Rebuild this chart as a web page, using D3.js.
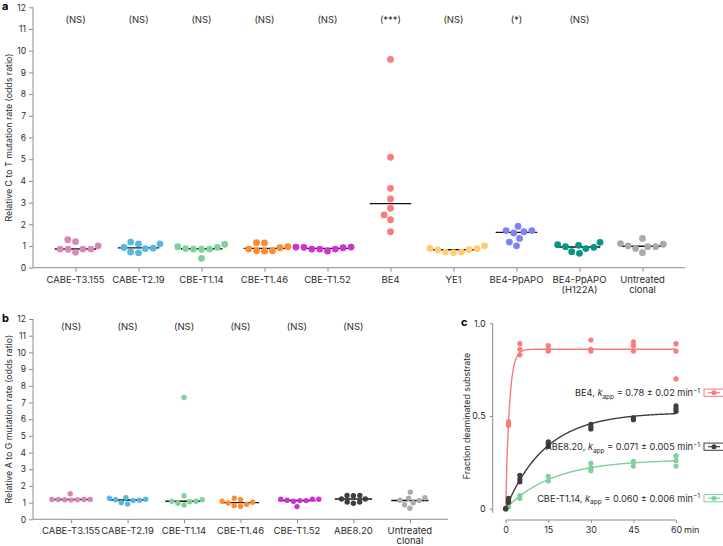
<!DOCTYPE html>
<html>
<head>
<meta charset="utf-8">
<script src="https://cdn.jsdelivr.net/npm/d3@7"></script>
<style>
  body { margin: 0; background: #fff; }
  svg { display: block; font-family: Inter, "Open Sans", sans-serif; }
</style>
</head>
<body>
<script>
// panel a : C to T
var catsA = ["CABE-T3.155", "CABE-T2.19", "CBE-T1.14", "CBE-T1.46", "CBE-T1.52", "BE4", "YE1", "BE4-PpAPO", "BE4-PpAPO\n(H122A)", "Untreated\nclonal"];
var sigA = ["(NS)", "(NS)", "(NS)", "(NS)", "(NS)", "(***)", "(NS)", "(*)", "(NS)", ""];
var cabeT3155A = [0.85, 1.20, 0.86, 1.29, 0.86, 0.86, 1.01, 0.71];
var cabeT219A = [0.72, 1.18, 0.88, 1.10, 0.90, 1.10, 0.93, 0.68];
var cbeT114A = [0.97, 0.88, 0.85, 0.43, 0.86, 1.08, 0.86, 0.94];
var cbeT146A = [1.14, 0.78, 0.97, 1.15, 0.78, 0.92, 0.76, 0.86];
var cbeT152A = [0.86, 0.95, 0.92, 0.95, 0.77, 0.94, 0.86, 0.86];
var be4A = [9.6, 5.09, 3.66, 3.17, 2.74, 2.43, 2.21, 1.66];
var ye1A = [0.72, 0.89, 0.82, 0.88, 1.01, 0.69, 0.83, 0.72];
var ppapoA = [1.91, 1.60, 1.71, 1.35, 1.01, 1.66, 1.18, 1.71];
var h122aA = [1.06, 0.94, 0.66, 1.17, 0.88, 0.97, 0.74, 1.03];
var untreatedA = [1.08, 1.11, 0.97, 0.69, 1.35, 0.88, 0.97, 1.01];
var groupsA = [cabeT3155A, cabeT219A, cbeT114A, cbeT146A, cbeT152A, be4A, ye1A, ppapoA, h122aA, untreatedA];

// panel b : A to G
var catsB = ["CABE-T3.155", "CABE-T2.19", "CBE-T1.14", "CBE-T1.46", "CBE-T1.52", "ABE8.20", "Untreated\nclonal"];
var sigB = ["(NS)", "(NS)", "(NS)", "(NS)", "(NS)", "(NS)", ""];
var cabeT3155B = [1.17, 1.19, 1.19, 1.19, 1.53, 1.15, 1.19, 1.17];
var cabeT219B = [1.14, 1.26, 1.12, 1.20, 1.29, 0.92, 1.17, 0.99];
var cbeT114B = [0.96, 1.17, 1.41, 1.08, 1.08, 0.86, 1.05, 7.3];
var cbeT146B = [1.17, 0.82, 1.08, 1.26, 0.90, 1.02, 0.78, 0.98];
var cbeT152B = [1.20, 1.14, 1.20, 1.08, 0.76, 1.20, 1.12, 1.12];
var abe820B = [1.43, 1.04, 1.22, 1.43, 1.04, 1.22, 1.41, 0.96];
var untreatedB = [1.26, 0.99, 0.66, 1.63, 1.14, 1.29, 0.87, 1.12];
var groupsB = [cabeT3155B, cabeT219B, cbeT114B, cbeT146B, cbeT152B, abe820B, untreatedB];

var yTicks = d3.range(0, 13);

// panel c : deamination time course
var timePoints = [0, 1, 5, 15, 30, 45, 60];
var be4Reps = [[0], [0.47, 0.46, 0.45], [0.89, 0.86, 0.83], [0.88, 0.86, 0.85], [0.91, 0.86, 0.85], [0.90, 0.88, 0.85], [0.89, 0.85, 0.70]];
var abe820Reps = [[0, 0], [0.056, 0.045, 0.035], [0.18, 0.16, 0.145], [0.36, 0.35, 0.335], [0.455, 0.44, 0.43], [0.49, 0.48], [0.555, 0.54, 0.525]];
var cbeT114Reps = [[0], [0.02, 0.01], [0.07, 0.055], [0.175, 0.15], [0.245, 0.22, 0.205], [0.255, 0.23], [0.285, 0.26, 0.23]];
var kineticNames = ["BE4", "ABE8.20", "CBE-T1.14"];
var kapp = [0.78, 0.071, 0.060];
var kappErr = ["0.02", "0.005", "0.006"];
var kappText = ["0.78", "0.071", "0.060"];
var plateau = [0.86, 0.52, 0.265];

var colors = {
  "CABE-T3.155": "#da86b9", "CABE-T2.19": "#55b8df", "CBE-T1.14": "#80d09c",
  "CBE-T1.46": "#fd8b2f", "CBE-T1.52": "#cf31d3", "BE4": "#f87c7b", "YE1": "#fdcd70",
  "BE4-PpAPO": "#8080f7", "BE4-PpAPO\n(H122A)": "#089589", "Untreated\nclonal": "#aaaaaa",
  "ABE8.20": "#3e3e3e"
};

var W = 723, H = 546;
var axisColor = "#8c8c8c", textColor = "#2b2b2b";

var svg = d3.select("body").append("svg").attr("width", W).attr("height", H);

// simple beeswarm: closest free horizontal spot for each dot
function swarm(vals, y, d) {
  var pts = vals.map(function(v, i) { return {v: v, py: y(v), x: 0}; });
  var order = pts.slice().sort(function(a, b) { return d3.ascending(a.v, b.v); });
  var placed = [];
  order.forEach(function(p) {
    var cands = [0];
    placed.forEach(function(q) {
      var dy = p.py - q.py;
      if (Math.abs(dy) < d) {
        var dx = Math.sqrt(d * d - dy * dy);
        cands.push(q.x + dx, q.x - dx);
      }
    });
    cands.sort(function(a, b) { return Math.abs(a) - Math.abs(b) || a - b; });
    p.x = cands.find(function(c) {
      return placed.every(function(q) { return (c - q.x) * (c - q.x) + (p.py - q.py) * (p.py - q.py) >= d * d - 0.01; });
    });
    placed.push(p);
  });
  return pts;
}

function dotPanel(cfg) {
  var g = svg.append("g");
  var x = d3.scalePoint().domain(cfg.cats).range([33, cfg.right]).padding(0.675);
  var y = d3.scaleLinear().domain([0, 12]).range([cfg.bottom, cfg.top]);

  var yAxis = g.append("g").attr("transform", "translate(33,0)")
    .call(d3.axisLeft(y).tickValues(yTicks).tickSize(4).tickPadding(3));
  var xAxis = g.append("g").attr("transform", "translate(0," + cfg.bottom + ")")
    .call(d3.axisBottom(x).tickSize(4).tickSizeOuter(0).tickFormat(""));
  [yAxis, xAxis].forEach(function(a) {
    a.selectAll("path, line").attr("stroke", axisColor);
    a.select(".domain").attr("d", a === yAxis ? "M0," + cfg.bottom + "V" + cfg.top : "M33,0H" + cfg.right);
  });
  yAxis.selectAll("text").attr("fill", textColor).attr("font-size", 8.5).attr("font-family", "Inter, sans-serif");

  // category labels (may be two lines)
  cfg.cats.forEach(function(c) {
    var t = g.append("text").attr("x", x(c)).attr("y", cfg.bottom + 15)
      .attr("text-anchor", "middle").attr("font-size", 9.5).attr("fill", textColor);
    c.split("\n").forEach(function(line, i) {
      t.append("tspan").attr("x", x(c)).attr("dy", i ? 10 : 0).text(line);
    });
  });

  // significance
  g.selectAll(".sig").data(cfg.cats).enter().append("text")
    .attr("x", function(d) { return x(d); })
    .attr("y", cfg.sigY)
    .attr("text-anchor", "middle").attr("font-size", 9.5).attr("fill", textColor)
    .text(function(d, i) { return cfg.sig[i]; });

  // y label
  g.append("text")
    .attr("transform", "translate(8," + ((cfg.top + cfg.bottom) / 2) + ")rotate(-90)")
    .attr("text-anchor", "middle").attr("dominant-baseline", "central")
    .attr("font-size", 8.8).attr("fill", textColor).text(cfg.ylabel);

  cfg.groups.forEach(function(vals, gi) {
    var c = cfg.cats[gi];
    var cx = x(c);
    var med = d3.median(vals);
    g.append("line")
      .attr("x1", cx - x.step() * 0.33).attr("x2", cx + x.step() * 0.33)
      .attr("y1", y(med)).attr("y2", y(med))
      .attr("stroke", "#111").attr("stroke-width", 1.4);
    g.selectAll(".dot" + gi).data(swarm(vals, y, cfg.spacing)).enter().append("circle")
      .attr("cx", function(d) { return cx + d.x; })
      .attr("cy", function(d) { return d.py; })
      .attr("r", cfg.r)
      .attr("fill", colors[c]);
  });

  g.append("text").attr("x", 2).attr("y", cfg.top + cfg.labelDy)
    .attr("font-size", 11).attr("font-weight", "bold").attr("fill", "#000").text(cfg.letter);
}

dotPanel({cats: catsA, groups: groupsA, sig: sigA, right: 685, top: 7.3, bottom: 267.7,
  sigY: 23, r: 3.4, spacing: 8, letter: "a", labelDy: 2.5,
  ylabel: "Relative C to T mutation rate (odds ratio)"});
dotPanel({cats: catsB, groups: groupsB, sig: sigB, right: 448, top: 319, bottom: 519.3,
  sigY: 330, r: 2.7, spacing: 6.4, letter: "b", labelDy: 3,
  ylabel: "Relative A to G mutation rate (odds ratio)"});

// ---- panel c
var gc = svg.append("g");
var xC = d3.scaleLinear().domain([0, 60]).range([505.7, 676]);
var yC = d3.scaleLinear().domain([0, 1]).range([508.7, 323.3]);

var yAxC = gc.append("g").attr("transform", "translate(492.7,0)")
  .call(d3.axisLeft(yC).tickValues([0, 0.5, 1]).tickSize(3).tickPadding(4)
    .tickFormat(function(d) { return d === 0 ? "0" : d3.format(".1f")(d); }));
yAxC.select(".domain").attr("d", "M0,513V323.3");
var xAxC = gc.append("g").attr("transform", "translate(0,520)")
  .call(d3.axisBottom(xC).tickValues([0, 15, 30, 45, 60]).tickSize(3).tickPadding(4));
xAxC.select(".domain").attr("d", "M" + xC(0) + ",0H" + xC(60));
[yAxC, xAxC].forEach(function(a) {
  a.selectAll("path, line").attr("stroke", axisColor);
  a.selectAll("text").attr("fill", textColor).attr("font-size", 9).attr("font-family", "Inter, sans-serif");
});
gc.append("text").attr("x", xC(60) + 8).attr("y", 520 + 7).attr("dy", "0.71em")
  .attr("font-size", 9).attr("fill", textColor).text("min");

gc.append("text")
  .attr("transform", "translate(466.5," + ((323.3 + 508.7) / 2) + ")rotate(-90)")
  .attr("text-anchor", "middle").attr("dominant-baseline", "central")
  .attr("font-size", 8.8).attr("fill", textColor).text("Fraction deaminated substrate");

gc.append("text").attr("x", 461).attr("y", 326)
  .attr("font-size", 11).attr("font-weight", "bold").attr("fill", "#000").text("c");

var repSets = [be4Reps, abe820Reps, cbeT114Reps];
var legendY = [392.7, 446.7, 498.2];
var drawOrder = [2, 0, 1];
var line = d3.line().x(function(d) { return xC(d[0]); }).y(function(d) { return yC(d[1]); });
var tSamples = d3.range(0, 60.001, 0.2);

drawOrder.forEach(function(si) {
  var col = colors[kineticNames[si]];
  var fit = tSamples.map(function(t) { return [t, plateau[si] * (1 - Math.exp(-kapp[si] * t))]; });
  gc.append("path").attr("d", line(fit)).attr("fill", "none").attr("stroke", col).attr("stroke-width", 1.4);
  var pts = [];
  repSets[si].forEach(function(reps, ti) { reps.forEach(function(v) { pts.push([timePoints[ti], v]); }); });
  gc.selectAll(".k" + si).data(pts).enter().append("circle")
    .attr("cx", function(d) { return xC(d[0]); })
    .attr("cy", function(d) { return yC(d[1]); })
    .attr("r", 2.6).attr("fill", col);
});

// legend entries
kineticNames.forEach(function(name, si) {
  var col = colors[name];
  var ly = legendY[si];
  var t = gc.append("text").attr("x", 700).attr("y", ly + 3.3).attr("text-anchor", "end")
    .attr("font-size", 9.2).attr("fill", textColor);
  t.append("tspan").text(name + ", ");
  t.append("tspan").attr("font-style", "italic").text("k");
  t.append("tspan").attr("font-size", 6.5).attr("dy", 2.5).text("app");
  t.append("tspan").attr("dy", -2.5).text(" = " + kappText[si] + " \u00b1 " + kappErr[si] + " min");
  t.append("tspan").attr("font-size", 6.5).attr("dy", -3.5).text("\u22121");
  var lg = gc.append("g");
  lg.append("rect").attr("x", 704).attr("y", ly - 3.6).attr("width", 24).attr("height", 7.2)
    .attr("fill", "#fff").attr("stroke", col).attr("stroke-width", 1);
  lg.append("line").attr("x1", 708).attr("x2", 720).attr("y1", ly).attr("y2", ly)
    .attr("stroke", col).attr("stroke-width", 1.2);
  lg.append("circle").attr("cx", 714).attr("cy", ly).attr("r", 2.5).attr("fill", col);
});
</script>
</body>
</html>
